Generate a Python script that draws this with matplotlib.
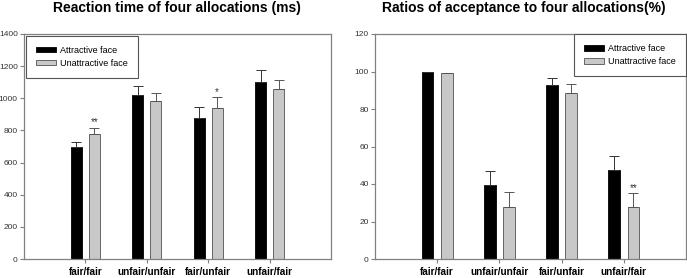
import matplotlib
matplotlib.use("Agg")
import matplotlib.pyplot as plt
import numpy as np
from matplotlib.patches import Patch

categories = ["fair/fair", "unfair/unfair", "fair/unfair", "unfair/fair"]
series_names = ["Attractive face", "Unattractive face"]

rt_attr = [695, 1020, 880, 1100]
rt_attr_err = [30, 55, 68, 78]
rt_unattr = [775, 983, 940, 1055]
rt_unattr_err = [40, 52, 65, 58]
rt_sig_unattr = ["**", "", "*", ""]

acc_attr = [99.5, 39.5, 93, 47.5]
acc_attr_err = [0.3, 7.5, 3.8, 7.5]
acc_unattr = [99, 28, 88.5, 28]
acc_unattr_err = [0.3, 7.5, 5, 7]
acc_sig_unattr = ["", "", "", "**"]

plt.rcParams['font.family'] = ['Liberation Sans', 'DejaVu Sans']

fig = plt.figure(figsize=(6.87, 2.78), dpi=100)
W, H = 687, 278
ax1 = fig.add_axes([24 / W, 1 - 259 / H, 307 / W, 225 / H])
ax2 = fig.add_axes([375 / W, 1 - 259 / H, 311 / W, 225 / H])

black = "#000000"
gray = "#c8c8c8"
spine_c = "#808080"


def draw(ax, a, ae, u, ue, sig, ylim, yticks, width, off, legloc, sigpad, baxpad):
    x = np.arange(len(categories))
    ax.bar(x - off, a, width, color=black, edgecolor=black, linewidth=0.6, zorder=2)
    ax.bar(x + off, u, width, color=gray, edgecolor="#505050", linewidth=0.6, zorder=2)
    ax.errorbar(x - off, a, yerr=[np.zeros(len(a)), ae], fmt="none", ecolor="#333333",
                elinewidth=0.7, capsize=3.5, capthick=0.7, zorder=3)
    ax.errorbar(x + off, u, yerr=[np.zeros(len(u)), ue], fmt="none", ecolor="#555555",
                elinewidth=0.7, capsize=3.5, capthick=0.7, zorder=3)
    for i, s in enumerate(sig):
        if s:
            ax.text(x[i] + off, u[i] + ue[i] + sigpad, s, ha="center", va="bottom",
                    fontsize=7, color="#333333")
    ax.set_xlim(-1, 4)
    ax.set_ylim(*ylim)
    ax.set_yticks(yticks)
    ax.set_xticks(x)
    ax.set_xticklabels(categories, fontweight="bold", fontsize=7.2)
    ax.tick_params(axis="y", labelsize=6, length=3, color=spine_c, pad=1.5, labelcolor="#333333")
    ax.tick_params(axis="x", length=3, color=spine_c, pad=3)
    for sp in ax.spines.values():
        sp.set_color(spine_c)
        sp.set_linewidth(0.9)
    handles = [Patch(facecolor=black, edgecolor=black, linewidth=0.6),
               Patch(facecolor=gray, edgecolor="#505050", linewidth=0.6)]
    leg = ax.legend(handles, series_names, loc=legloc, fontsize=6.5, frameon=True,
                    fancybox=False, edgecolor="#555555", framealpha=1,
                    handlelength=2.2, handleheight=0.6, borderpad=1.1,
                    labelspacing=0.45, handletextpad=0.5, borderaxespad=baxpad)
    leg.get_frame().set_linewidth(0.8)


draw(ax1, rt_attr, rt_attr_err, rt_unattr, rt_unattr_err, rt_sig_unattr,
     (0, 1400), np.arange(0, 1401, 200), 0.18, 0.145, "upper left", 5, 0.2)
draw(ax2, acc_attr, acc_attr_err, acc_unattr, acc_unattr_err, acc_sig_unattr,
     (0, 120), np.arange(0, 121, 20), 0.19, 0.155, "upper right", 0.4, 0.0)

fig.text(177 / W, 1 - 8 / H, "Reaction time of four allocations (ms)", ha="center",
         va="center", fontsize=10, fontweight="bold")
fig.text(524 / W, 1 - 8 / H, "Ratios of acceptance to four allocations(%)", ha="center",
         va="center", fontsize=10, fontweight="bold")

fig.savefig("out.png", dpi=100)
